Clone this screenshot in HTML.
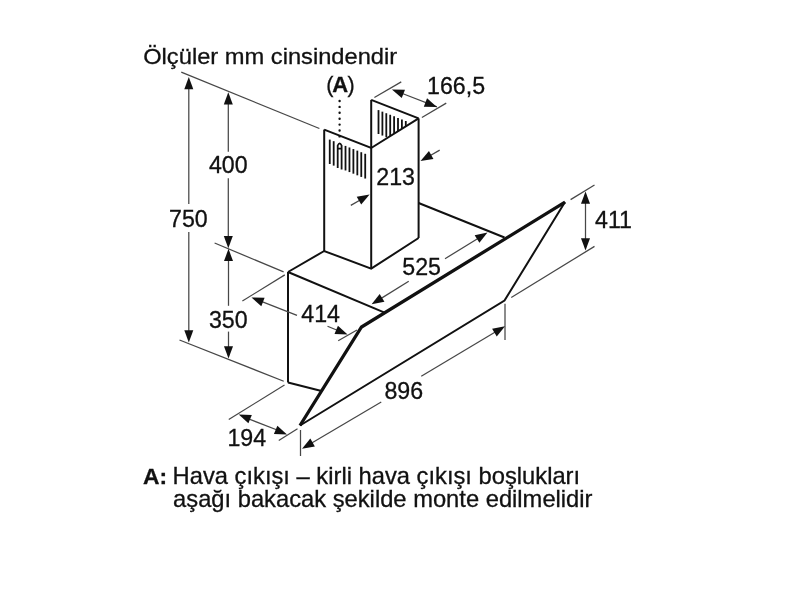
<!DOCTYPE html>
<html><head><meta charset="utf-8"><style>
html,body{margin:0;padding:0;background:#fff;}
svg{display:block;filter:grayscale(1);}
text{font-family:"Liberation Sans",sans-serif;fill:#111;stroke:#111;stroke-width:0.3px;}
</style></head><body>
<svg width="801" height="615" viewBox="0 0 801 615">
<rect width="801" height="615" fill="#fff"/>
<line x1="181.25" y1="72.1" x2="319.4" y2="128.5" stroke="#474747" stroke-width="1.25"/>
<line x1="214.6" y1="243" x2="283.6" y2="271.9" stroke="#474747" stroke-width="1.25"/>
<line x1="179.5" y1="340" x2="283.75" y2="381.25" stroke="#474747" stroke-width="1.25"/>
<line x1="188.8" y1="204" x2="188.8" y2="86.84" stroke="#474747" stroke-width="1.25"/>
<polygon points="188.80,77.00 193.30,89.30 184.30,89.30" fill="#111"/>
<line x1="188.8" y1="232" x2="188.8" y2="332.66" stroke="#474747" stroke-width="1.25"/>
<polygon points="188.80,342.50 184.30,330.20 193.30,330.20" fill="#111"/>
<text x="207.7" y="226.8" font-size="23.2" font-weight="normal" text-anchor="end">750</text>
<line x1="228.3" y1="151.7" x2="228.3" y2="102.14" stroke="#474747" stroke-width="1.25"/>
<polygon points="228.30,92.30 232.80,104.60 223.80,104.60" fill="#111"/>
<line x1="228.3" y1="178.2" x2="228.3" y2="238.46" stroke="#474747" stroke-width="1.25"/>
<polygon points="228.30,248.30 223.80,236.00 232.80,236.00" fill="#111"/>
<text x="228.3" y="172.8" font-size="23.2" font-weight="normal" text-anchor="middle">400</text>
<line x1="228.5" y1="305.8" x2="228.5" y2="258.64" stroke="#474747" stroke-width="1.25"/>
<polygon points="228.50,248.80 233.00,261.10 224.00,261.10" fill="#111"/>
<line x1="228.5" y1="331.6" x2="228.5" y2="348.66" stroke="#474747" stroke-width="1.25"/>
<polygon points="228.50,358.50 224.00,346.20 233.00,346.20" fill="#111"/>
<text x="228.3" y="327.6" font-size="23.2" font-weight="normal" text-anchor="middle">350</text>
<line x1="324.2" y1="129.6" x2="324.2" y2="251" stroke="#111" stroke-width="2"/>
<line x1="371.2" y1="99.9" x2="371.2" y2="268.7" stroke="#111" stroke-width="2"/>
<line x1="418.6" y1="118.4" x2="418.6" y2="238" stroke="#111" stroke-width="2"/>
<polyline points="324.2,129.6 371.2,148 418.6,118.4" fill="none" stroke="#111" stroke-width="2" stroke-linejoin="miter"/>
<line x1="371.2" y1="99.9" x2="418.6" y2="118.4" stroke="#111" stroke-width="2"/>
<polyline points="288,272 324.2,251 371.2,268.7 418.6,238" fill="none" stroke="#111" stroke-width="2" stroke-linejoin="miter"/>
<line x1="329.75" y1="139.6" x2="329.75" y2="164.0" stroke="#111" stroke-width="1.8"/>
<line x1="333.69" y1="141.18" x2="333.69" y2="165.62" stroke="#111" stroke-width="1.8"/>
<line x1="345.51" y1="145.9" x2="345.51" y2="170.46" stroke="#111" stroke-width="1.8"/>
<line x1="349.45" y1="147.48" x2="349.45" y2="172.08" stroke="#111" stroke-width="1.8"/>
<line x1="353.39" y1="149.06" x2="353.39" y2="173.69" stroke="#111" stroke-width="1.8"/>
<line x1="357.33" y1="150.63" x2="357.33" y2="175.31" stroke="#111" stroke-width="1.8"/>
<line x1="361.27" y1="152.21" x2="361.27" y2="176.92" stroke="#111" stroke-width="1.8"/>
<line x1="365.21" y1="153.78" x2="365.21" y2="178.54" stroke="#111" stroke-width="1.8"/>
<path d="M337.7,168 V145.5 Q339.65,141.2 341.6,145.5 V169.4 M337.7,148.6 H341.6" fill="none" stroke="#111" stroke-width="1.8"/>
<line x1="378.5" y1="110.1" x2="378.5" y2="134.0" stroke="#111" stroke-width="1.8"/>
<line x1="382.4" y1="111.66" x2="382.4" y2="135.56" stroke="#111" stroke-width="1.8"/>
<line x1="386.3" y1="113.22" x2="386.3" y2="137.12" stroke="#111" stroke-width="1.8"/>
<line x1="390.2" y1="114.78" x2="390.2" y2="136.04" stroke="#111" stroke-width="1.8"/>
<line x1="394.1" y1="116.34" x2="394.1" y2="133.63" stroke="#111" stroke-width="1.8"/>
<line x1="398.0" y1="117.9" x2="398.0" y2="131.23" stroke="#111" stroke-width="1.8"/>
<line x1="401.9" y1="119.46" x2="401.9" y2="128.82" stroke="#111" stroke-width="1.8"/>
<line x1="405.8" y1="121.02" x2="405.8" y2="126.41" stroke="#111" stroke-width="1.8"/>
<line x1="339.6" y1="101" x2="339.6" y2="137.5" stroke="#111" stroke-width="2.4" stroke-dasharray="0 5.9" stroke-linecap="round"/>
<text x="326.3" y="92" font-size="21.5" font-weight="normal" text-anchor="start">(</text>
<text x="332.3" y="92" font-size="22" font-weight="bold" text-anchor="start">A</text>
<text x="347.6" y="92" font-size="21.5" font-weight="normal" text-anchor="start">)</text>
<line x1="374.4" y1="97.5" x2="401.25" y2="81.9" stroke="#474747" stroke-width="1.25"/>
<line x1="421.9" y1="117.5" x2="446.25" y2="103.1" stroke="#474747" stroke-width="1.25"/>
<line x1="436.9" y1="106.9" x2="401.07092596796633" y2="92.9664712097647" stroke="#474747" stroke-width="1.25"/>
<polygon points="391.90,89.40 404.99,89.66 401.73,98.05" fill="#111"/>
<polygon points="436.90,106.90 423.81,106.64 427.07,98.25" fill="#111"/>
<text x="427" y="93.9" font-size="23.2" font-weight="normal" text-anchor="start">166,5</text>
<line x1="439.7" y1="150.1" x2="429.03803405096494" y2="156.20841799163466" stroke="#474747" stroke-width="1.25"/>
<polygon points="420.50,161.10 428.94,151.08 433.41,158.89" fill="#111"/>
<line x1="350.8" y1="205.4" x2="361.0873071366265" y2="199.4355506495091" stroke="#474747" stroke-width="1.25"/>
<polygon points="369.60,194.50 361.22,204.56 356.70,196.78" fill="#111"/>
<text x="376.3" y="184.5" font-size="23.2" font-weight="normal" text-anchor="start">213</text>
<line x1="288" y1="272" x2="288" y2="382.5" stroke="#111" stroke-width="2"/>
<line x1="288" y1="382.5" x2="321.5" y2="391" stroke="#111" stroke-width="2"/>
<line x1="288" y1="272" x2="385.2" y2="312.9" stroke="#111" stroke-width="2"/>
<line x1="418.6" y1="203" x2="504.5" y2="237.5" stroke="#111" stroke-width="2"/>
<polyline points="565,202.1 504.5,300.5 300,425.5" fill="none" stroke="#111" stroke-width="2.0" stroke-linejoin="miter"/>
<polyline points="300,425.5 361.5,327 565,202.1" fill="none" stroke="#111" stroke-width="3.3" stroke-linejoin="miter"/>
<line x1="445" y1="258.75" x2="479.1281477059846" y2="237.67084994630366" stroke="#474747" stroke-width="1.25"/>
<polygon points="487.50,232.50 479.40,242.79 474.67,235.13" fill="#111"/>
<line x1="408.75" y1="281.25" x2="379.96132848487247" y2="299.1121501594533" stroke="#474747" stroke-width="1.25"/>
<polygon points="371.60,304.30 379.68,293.99 384.42,301.64" fill="#111"/>
<text x="441" y="275.2" font-size="23.2" font-weight="normal" text-anchor="end">525</text>
<line x1="570.6" y1="199.6" x2="594.5" y2="185" stroke="#474747" stroke-width="1.25"/>
<line x1="511.25" y1="297.5" x2="594.5" y2="246.4" stroke="#474747" stroke-width="1.25"/>
<line x1="585.5" y1="195" x2="585.5" y2="247" stroke="#474747" stroke-width="1.25"/>
<polygon points="585.50,191.50 590.00,203.80 581.00,203.80" fill="#111"/>
<polygon points="585.50,250.50 581.00,238.20 590.00,238.20" fill="#111"/>
<text x="595" y="227.5" font-size="23.2" font-weight="normal" text-anchor="start">411</text>
<line x1="242.4" y1="301" x2="284.8" y2="274.9" stroke="#474747" stroke-width="1.25"/>
<line x1="297" y1="315.3" x2="260.6637260692258" y2="301.08493019851034" stroke="#474747" stroke-width="1.25"/>
<polygon points="251.50,297.50 264.59,297.79 261.32,306.17" fill="#111"/>
<line x1="327.5" y1="326.25" x2="338.49695258359145" y2="330.763674567892" stroke="#474747" stroke-width="1.25"/>
<polygon points="347.60,334.50 334.51,333.99 337.93,325.67" fill="#111"/>
<line x1="338.2" y1="340.8" x2="357" y2="330" stroke="#474747" stroke-width="1.25"/>
<text x="301.25" y="322.4" font-size="23.2" font-weight="normal" text-anchor="start">414</text>
<line x1="228.75" y1="419.5" x2="284.5" y2="385" stroke="#474747" stroke-width="1.25"/>
<line x1="278.75" y1="440.5" x2="297.5" y2="428.75" stroke="#474747" stroke-width="1.25"/>
<line x1="245" y1="417.5" x2="281" y2="431.5" stroke="#474747" stroke-width="1.25"/>
<polygon points="238.75,414.50 251.84,415.05 248.39,423.37" fill="#111"/>
<polygon points="287.00,434.50 273.91,433.95 277.36,425.63" fill="#111"/>
<text x="227.4" y="446.2" font-size="23.2" font-weight="normal" text-anchor="start">194</text>
<line x1="300.5" y1="430" x2="300.5" y2="456" stroke="#474747" stroke-width="1.25"/>
<line x1="505" y1="303.75" x2="505" y2="340" stroke="#474747" stroke-width="1.25"/>
<line x1="381.25" y1="402" x2="310.4752405035559" y2="443.7504101761358" stroke="#474747" stroke-width="1.25"/>
<polygon points="302.00,448.75 310.31,438.62 314.88,446.38" fill="#111"/>
<line x1="421.25" y1="376.25" x2="496.55116333888145" y2="331.29408158872747" stroke="#474747" stroke-width="1.25"/>
<polygon points="505.00,326.25 496.75,336.42 492.13,328.69" fill="#111"/>
<text x="384.4" y="399" font-size="23.2" font-weight="normal" text-anchor="start">896</text>
<text x="143.2" y="63.9" font-size="22.5" font-weight="normal" text-anchor="start" textLength="254" lengthAdjust="spacingAndGlyphs">Ölçüler mm cinsindendir</text>
<text x="143" y="483.6" font-size="22.8" font-weight="normal" text-anchor="start"><tspan font-weight="bold">A:</tspan></text>
<text x="172.6" y="483.6" font-size="23.2" font-weight="normal" text-anchor="start" textLength="407.5" lengthAdjust="spacingAndGlyphs">Hava çıkışı – kirli hava çıkışı boşlukları</text>
<text x="173.1" y="506.8" font-size="23.2" font-weight="normal" text-anchor="start" textLength="419.4" lengthAdjust="spacingAndGlyphs">aşağı bakacak şekilde monte edilmelidir</text>
</svg></body></html>
